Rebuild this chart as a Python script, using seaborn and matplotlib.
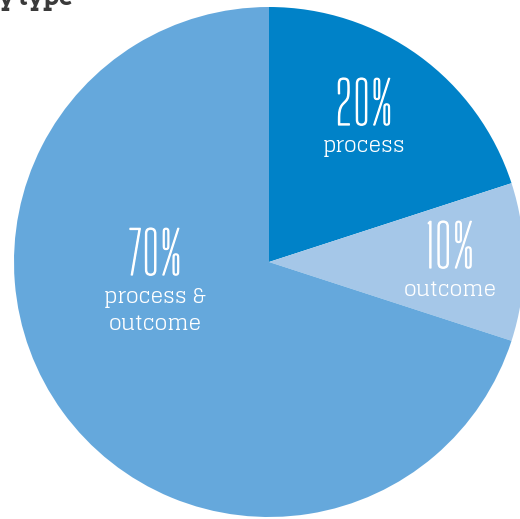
import matplotlib
matplotlib.use("Agg")
import matplotlib.pyplot as plt
import matplotlib.patheffects as pe
import seaborn as sns

# Share of measures by type
categories = ["process", "outcome", "process &\noutcome"]
shares = [20, 10, 70]
colors = ["#0082C8", "#A5C7E8", "#65A8DC"]
title = "y type"

sns.set_theme(style="white")
plt.rcParams["font.family"] = ["Glegoo", "DejaVu Serif"]

W, H = 520, 519
fig = plt.figure(figsize=(W / 100, H / 100), dpi=100)
ax = fig.add_axes([0, 0, 1, 1])

cx, cy, r = 269, 262, 255
ax.pie(shares, colors=colors, startangle=90, counterclock=False,
       center=(cx, H - cy), radius=r, wedgeprops=dict(linewidth=0))
ax.set_xlim(0, W)
ax.set_ylim(0, H)
ax.set_aspect("equal")
ax.axis("off")

num_font = ["Big Shoulders Display", "Fira Sans Extra Condensed", "DejaVu Sans"]
slab_font = ["Glegoo", "DejaVu Serif"]
title_font = ["Arvo", "Zilla Slab", "DejaVu Serif"]
thicken = [pe.withStroke(linewidth=0.9, foreground="white")]

# label anchors: (x, baseline of percentage, baseline of first caption line)
anchors = [(364, 125, 152), (450, 268, 296), (155, 275, 303)]
for (x, yp, yc), cat, v in zip(anchors, categories, shares):
    ax.text(x, H - yp, f"{v}%", family=num_font, fontsize=42,
            color="white", ha="center", va="baseline", path_effects=thicken)
    for i, line in enumerate(cat.split("\n")):
        ax.text(x, H - (yc + 27 * i), line, family=slab_font,
                fontsize=15, color="white", ha="center", va="baseline")

ax.text(-1, H - 5, title, family=title_font, weight="bold", fontsize=17.5,
        color="#3A3A3A", ha="left", va="baseline")

fig.savefig("out.png", dpi=100)
